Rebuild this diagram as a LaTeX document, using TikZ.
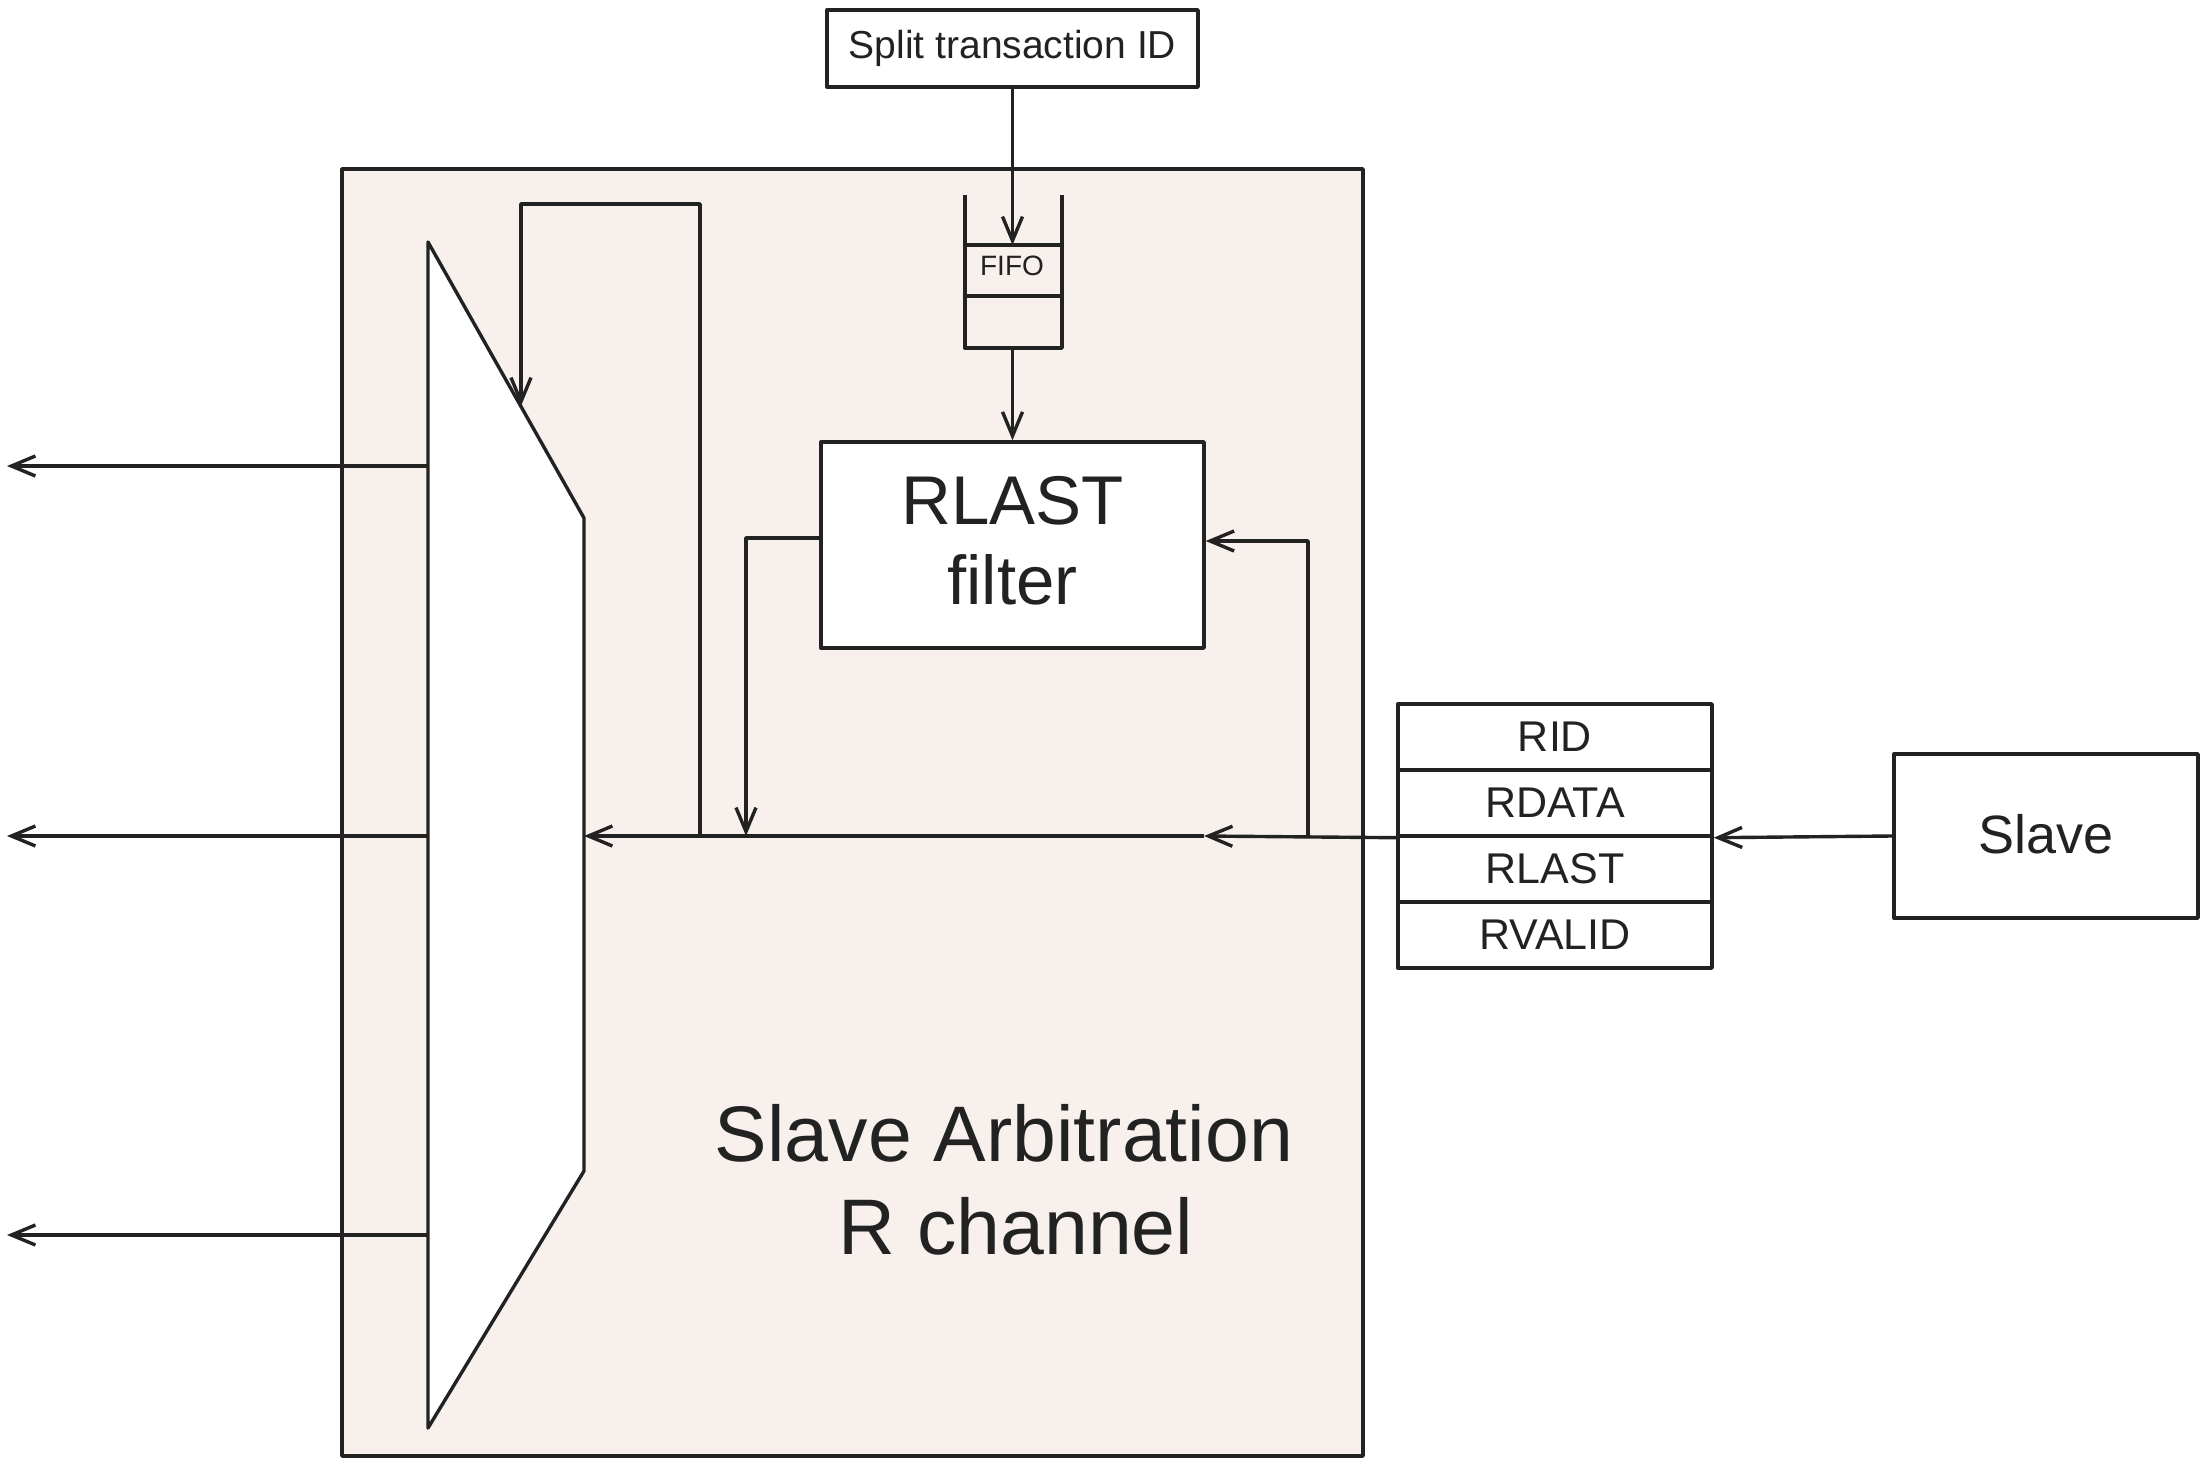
\documentclass[tikz,border=0pt]{standalone}
\usepackage{fontspec}
\setmainfont{Liberation Sans}
\usetikzlibrary{arrows.meta,calc}
\definecolor{bg}{RGB}{248,240,237}
\definecolor{ink}{RGB}{34,34,34}
\begin{document}
\begin{tikzpicture}[x=0.5pt,y=-0.5pt,
  ln/.style={line width=1.7pt,draw=ink,line join=round},
  arr/.style={ln,-{Straight Barb[length=12pt,width=10pt,line width=1.7pt]}},
  box/.style={ln,fill=white,rectangle,inner sep=0pt,align=center,text=ink},
]
\useasboundingbox (0,0) rectangle (2208,1467);
% main block
\node[box,fill=bg,minimum width=510.5pt,minimum height=643.5pt] (main) at (852.5,812.5) {};
\node[text=ink,align=center,font=\fontsize{39.4}{46.5}\selectfont] (title) at (1004,1180) {Slave Arbitration\\\hspace*{12pt}R channel};
% mux
\coordinate (m1) at (428,242);
\coordinate (m2) at (584,518);
\coordinate (m3) at (584,1171);
\coordinate (m4) at (428,1428);
\draw[ln,fill=white] (m1) -- (m2) -- (m3) -- (m4) -- cycle;
% split id
\node[box,minimum width=185.5pt,minimum height=38.5pt,font=\fontsize{19.5}{23}\selectfont] (split) at (1012.5,48.5) {Split transaction ID};
% FIFO
\draw[ln] (965,195) -- (965,348) -- (1062,348) -- (1062,195);
\draw[ln] (965,245) -- (1062,245);
\draw[ln] (965,296) -- (1062,296);
\node[text=ink,font=\fontsize{14}{16}\selectfont] (fifo) at (1012,266) {FIFO};
\coordinate (fifotop) at (1012.5,245);
\coordinate (fifobot) at (1012.5,348);
% RLAST filter
\node[box,minimum width=191.5pt,minimum height=103pt,font=\fontsize{34.5}{40}\selectfont,text depth=5pt] (rlast) at (1012.5,545) {RLAST\\filter};
% fields
\tikzset{field/.style={box,minimum width=157pt,minimum height=33pt,font=\fontsize{21.5}{24}\selectfont}}
\node[field] (rid) at (1555,737) {RID};
\node[field] (rdata) at (1555,803) {RDATA};
\node[field] (rlastf) at (1555,869) {RLAST};
\node[field] (rvalid) at (1555,935) {RVALID};
% slave
\node[box,minimum width=152pt,minimum height=82pt,font=\fontsize{27}{30}\selectfont] (slave) at (2046,836) {\raisebox{2pt}{Slave}};
% coordinates
\coordinate (midtip) at (1204,836);
\coordinate (muxin) at (584,836);
\coordinate (tap) at (1308,836);
\coordinate (drop) at (746,836);
\coordinate (fbtap) at (700,836);
\coordinate (fbcorner) at (521,204);
\coordinate (muxslant) at (521,406);
\coordinate (mo1) at (428,466);
\coordinate (mo2) at (428,836);
\coordinate (mo3) at (428,1235);
\coordinate (o1) at (7,466);
\coordinate (o2) at (7,836);
\coordinate (o3) at (7,1235);
% connectors
\draw[arr] (split.south) -- (fifotop);
\draw[arr] (fifobot) -- (rlast.north);
\draw[arr] (slave.west) -- (rdata.south east);
\draw[arr] (rdata.south west) -- (midtip);
\draw[arr] (midtip) -- (muxin);
\draw[arr] (tap) |- ($(rlast.east)+(0,-4)$);
\draw[arr] ($(rlast.west)+(0,-7)$) -| (drop);
\draw[arr] (fbtap) |- (fbcorner) -- (muxslant);
\draw[arr] (mo1) -- (o1);
\draw[arr] (mo2) -- (o2);
\draw[arr] (mo3) -- (o3);
\end{tikzpicture}
\end{document}
